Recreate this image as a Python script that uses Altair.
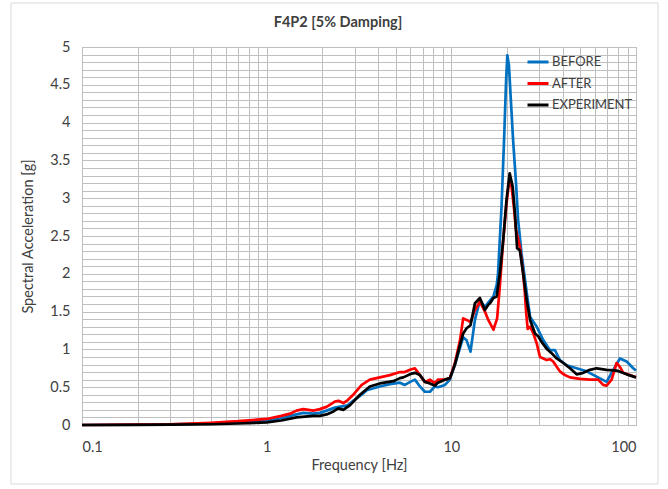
import altair as alt
import pandas as pd

# ---- data ----
after_f = [0.1, 0.2, 0.3, 0.5, 0.7, 1.0, 1.2, 1.34, 1.45, 1.58, 1.79, 1.94, 2.11, 2.34, 2.45, 2.6, 2.75,
           2.94, 3.27, 3.62, 4.1, 4.65, 5.27, 5.6, 5.97, 6.35, 6.76, 7.19, 7.66, 8.15, 8.46, 9.23, 9.82,
           10.46, 11.14, 11.59, 12.1, 12.7, 13.42, 14.28, 15.2, 15.85, 16.9, 17.7, 18.3, 19.1, 19.9,
           20.6, 21.2, 21.8, 22.4, 23.5, 24.5, 25.0, 25.4, 25.9, 26.7, 27.8, 29.0, 30.2, 31.5, 32.8,
           34.2, 35.6, 37.2, 38.7, 41.2, 43.9, 49.7, 56.3, 62.4, 66.4, 69.3, 73.8, 78.5, 81.8, 85.3,
           92.7, 100]
after_v = [0.0, 0.005, 0.01, 0.03, 0.05, 0.08, 0.12, 0.15, 0.19, 0.21, 0.19, 0.21, 0.24, 0.31, 0.32, 0.29, 0.33,
           0.40, 0.53, 0.60, 0.63, 0.66, 0.70, 0.70, 0.73, 0.75, 0.66, 0.57, 0.60, 0.55, 0.60, 0.60, 0.62,
           0.82, 1.12, 1.41, 1.39, 1.36, 1.52, 1.63, 1.50, 1.39, 1.26, 1.41, 1.83, 2.45, 2.93,
           3.24, 3.15, 2.89, 2.58, 2.36, 2.00, 1.75, 1.50, 1.27, 1.30, 1.21, 1.08, 0.90, 0.88, 0.86,
           0.87, 0.84, 0.77, 0.71, 0.66, 0.63, 0.61, 0.60, 0.60, 0.53, 0.52, 0.60, 0.82, 0.77, 0.69,
           0.66, 0.63]

before_f = [0.1, 0.2, 0.3, 0.5, 0.7, 1.0, 1.2, 1.45, 1.58, 1.79, 1.94, 2.11, 2.34, 2.6, 2.75, 2.94, 3.27,
            3.48, 4.1, 4.65, 5.27, 5.6, 6.1, 6.35, 6.76, 7.19, 7.66, 8.15, 8.46, 9.23, 9.82, 10.46,
            11.14, 11.59, 12.1, 12.7, 13.42, 14.28, 15.2, 15.85, 16.9, 17.6, 17.9, 18.7, 19.3, 19.8,
            20.1, 20.5, 21.6, 22.4, 23.0, 24.0, 25.6, 26.7, 29.0, 31.5, 34.2, 36.4, 38.7, 42.1, 47.7,
            54.0, 61.2, 69.3, 75.3, 81.8, 89.0, 96.6, 100]
before_v = [0.0, 0.004, 0.008, 0.02, 0.035, 0.06, 0.09, 0.14, 0.16, 0.15, 0.16, 0.19, 0.23, 0.25, 0.26, 0.32, 0.40,
            0.46, 0.51, 0.54, 0.56, 0.53, 0.58, 0.60, 0.51, 0.44, 0.44, 0.51, 0.50, 0.53, 0.60, 0.80,
            1.02, 1.16, 1.12, 0.97, 1.39, 1.65, 1.56, 1.62, 1.70, 1.85, 2.00, 2.89, 3.77, 4.56,
            4.89, 4.76, 3.77, 3.20, 2.71, 2.27, 1.75, 1.43, 1.30, 1.12, 0.99, 0.99, 0.86, 0.79, 0.75,
            0.71, 0.64, 0.57, 0.73, 0.88, 0.84, 0.75, 0.72]

exp_f = [0.1, 0.2, 0.3, 0.5, 0.7, 1.0, 1.2, 1.45, 1.79, 1.94, 2.11, 2.3, 2.44, 2.6, 2.82, 3.2, 3.62, 4.1,
         4.85, 5.27, 5.5, 6.1, 6.35, 6.76, 7.19, 7.66, 8.15, 8.46, 9.23, 9.82, 10.46, 11.14, 11.59,
         12.1, 12.7, 13.42, 14.28, 15.2, 15.85, 16.2, 16.9, 17.6, 18.3, 19.1, 19.9, 20.7, 21.5, 22.1,
         22.7, 23.5, 24.5, 25.6, 26.7, 28.4, 29.6, 30.8, 32.8, 34.9, 37.2, 40.4, 43.9, 47.7, 51.8,
         56.3, 61.2, 69.3, 78.5, 89.0, 100]
exp_v = [0.0, 0.002, 0.004, 0.01, 0.02, 0.035, 0.06, 0.10, 0.12, 0.12, 0.14, 0.18, 0.22, 0.20, 0.26, 0.40, 0.51, 0.55,
         0.58, 0.62, 0.63, 0.68, 0.69, 0.66, 0.57, 0.55, 0.52, 0.56, 0.60, 0.62, 0.80, 1.06, 1.21,
         1.28, 1.32, 1.61, 1.68, 1.52, 1.59, 1.61, 1.68, 1.70, 2.00, 2.45, 2.98, 3.33, 3.15, 2.80,
         2.34, 2.31, 2.00, 1.65, 1.39, 1.21, 1.17, 1.10, 1.01, 0.95, 0.88, 0.82, 0.75, 0.67, 0.69,
         0.73, 0.75, 0.73, 0.72, 0.67, 0.63]

series_names = ["BEFORE", "AFTER", "EXPERIMENT"]
series_colors = ["#0070C0", "#FF0000", "#000000"]
chart_title = "F4P2 [5% Damping]"

x_grid = [round(m * 10 ** e, 6) for e in (-1, 0, 1) for m in range(1, 10)] + [100]
y_grid = [round(i * 0.1, 1) for i in range(0, 51)]

rows = []
for name, fs, vs in (("BEFORE", before_f, before_v), ("AFTER", after_f, after_v), ("EXPERIMENT", exp_f, exp_v)):
    for i, (f, v) in enumerate(zip(fs, vs)):
        rows.append({"series": name, "freq": f, "accel": v, "idx": i})
df = pd.DataFrame(rows)

FONT = "Lato"
TXT = "#404040"

lines = alt.Chart(df).mark_line(strokeWidth=2.7, strokeJoin="round").encode(
    x=alt.X("freq:Q",
            scale=alt.Scale(type="log", domain=[0.1, 100]),
            axis=alt.Axis(values=x_grid, title="Frequency [Hz]", ticks=False, tickSize=0,
                          labelExpr="(datum.value==0.1||datum.value==1||datum.value==10||datum.value==100) ? format(datum.value,'~g') : ''",
                          labelPadding=15, labelFontSize=14.5, labelColor=TXT, titleFontSize=14.5,
                          titleFontWeight="normal", titleColor=TXT, titlePadding=5,
                          gridColor="#bfbfbf", domainColor="#bfbfbf", labelFont=FONT, titleFont=FONT,
                          labelOverlap=False)),
    y=alt.Y("accel:Q",
            scale=alt.Scale(domain=[0, 5], nice=False),
            axis=alt.Axis(values=y_grid, title="Spectral Acceleration [g]", ticks=False, tickSize=0,
                          labelExpr="(round(datum.value*10) % 5 == 0) ? format(datum.value,'~g') : ''",
                          labelPadding=12, labelFontSize=14.5, labelColor=TXT, titleFontSize=14.5,
                          titleFontWeight="normal", titleColor=TXT, titlePadding=14,
                          gridColor="#bfbfbf", domainColor="#bfbfbf", labelFont=FONT, titleFont=FONT,
                          labelOverlap=False)),
    color=alt.Color("series:N",
                    scale=alt.Scale(domain=series_names, range=series_colors),
                    legend=alt.Legend(title=None, orient="none", legendX=444, legendY=3,
                                      symbolType="stroke", symbolStrokeWidth=3, symbolSize=441,
                                      labelFontSize=13, labelColor=TXT, labelFont=FONT,
                                      rowPadding=2.5, labelOffset=2, padding=0)),
    order="idx:Q",
)

frame = alt.Chart(pd.DataFrame({"k": [0]})).mark_rect(filled=False, stroke="#d9d9d9", strokeWidth=1).encode(
    x=alt.value(-71), x2=alt.value(576), y=alt.value(-44), y2=alt.value(437)
)

title = alt.Chart(pd.DataFrame({"t": [chart_title]})).mark_text(
    font=FONT, fontSize=14.5, fontWeight="bold", color=TXT, align="center", baseline="middle"
).encode(text="t:N", x=alt.value(256), y=alt.value(-24))

chart = alt.layer(frame, lines, title).properties(
    width=554, height=378,
    autosize=alt.AutoSizeParams(type="none"),
    padding={"left": 82, "top": 47, "right": 32, "bottom": 64},
    background="white",
).configure_view(stroke="#bfbfbf")

chart.save("out.html", embed_options={"renderer": "svg", "actions": False})
